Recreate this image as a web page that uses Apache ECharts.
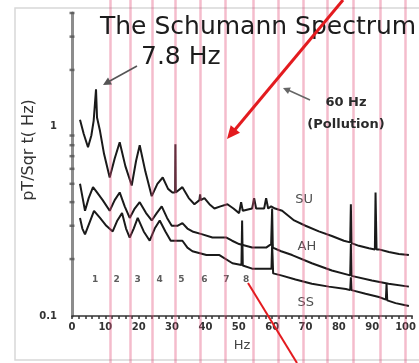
<!DOCTYPE html>
<html>
<head>
<meta charset="utf-8">
<script src="https://cdn.jsdelivr.net/npm/echarts@6/dist/echarts.min.js"></script>
<style>html,body{margin:0;padding:0;background:#fff;}#c{width:419px;height:363px;}</style>
</head>
<body>
<div id="c"></div>
<script>
// ---- data (Hz, pT/sqrt(Hz)) ----
const su = [[2.4,1.09],[3.5,0.92],[4.8,0.78],[5.8,0.9],[6.5,1.08],[7.2,1.58],[7.5,1.12],[8.4,0.95],[9.6,0.72],[11.3,0.54],[12.8,0.68],[14.3,0.83],[16.0,0.62],[17.9,0.49],[19.2,0.66],[20.3,0.80],[22.0,0.58],[23.9,0.43],[25.6,0.50],[27.2,0.54],[28.8,0.47],[30.1,0.45],[30.9,0.45],[31.0,0.81],[31.1,0.45],[33.1,0.48],[35.0,0.42],[36.7,0.39],[38.2,0.41],[38.4,0.44],[38.6,0.41],[39.7,0.42],[41.2,0.39],[42.7,0.37],[44.5,0.38],[46.6,0.39],[48.4,0.37],[50.1,0.35],[50.7,0.40],[51.2,0.36],[54.0,0.37],[54.6,0.42],[55.2,0.37],[57.6,0.37],[58.2,0.42],[58.8,0.37],[59.7,0.38],[60.9,0.37],[63.0,0.36],[66.6,0.32],[70.0,0.30],[74.0,0.28],[77.9,0.265],[81.5,0.25],[83.4,0.245],[83.6,0.39],[83.8,0.243],[86.0,0.235],[89.0,0.228],[90.8,0.225],[91.0,0.45],[91.3,0.225],[92.0,0.225],[95.0,0.218],[98.0,0.213],[101.0,0.21]];
const ah = [[2.4,0.50],[3.2,0.42],[3.9,0.36],[5.0,0.42],[6.3,0.48],[7.5,0.45],[9.2,0.41],[11.3,0.36],[12.8,0.41],[14.3,0.45],[15.8,0.38],[17.3,0.33],[18.8,0.37],[20.3,0.40],[22.2,0.35],[23.9,0.32],[25.4,0.35],[26.9,0.38],[28.5,0.33],[29.9,0.30],[31.6,0.30],[33.1,0.31],[34.6,0.29],[36.1,0.28],[39.1,0.27],[42.1,0.26],[44.0,0.26],[46.3,0.26],[48.0,0.25],[50.1,0.24],[54.0,0.23],[58.2,0.23],[59.7,0.24],[59.9,0.24],[60.0,0.37],[60.2,0.23],[62.7,0.22],[66.0,0.21],[71.9,0.19],[77.9,0.174],[83.4,0.164],[83.6,0.24],[83.8,0.163],[89.9,0.154],[94.9,0.148],[101.0,0.143]];
const ss = [[2.4,0.33],[3.1,0.29],[3.9,0.27],[5.2,0.31],[6.6,0.36],[8.4,0.33],[10.3,0.30],[12.2,0.28],[13.6,0.32],[15.0,0.35],[16.2,0.29],[17.3,0.26],[18.5,0.29],[19.7,0.33],[21.5,0.28],[23.3,0.25],[24.8,0.29],[26.3,0.32],[28.0,0.28],[29.6,0.25],[31.5,0.25],[33.1,0.25],[34.6,0.23],[36.1,0.22],[40.3,0.21],[44.2,0.21],[48.1,0.19],[50.8,0.186],[51.0,0.32],[51.2,0.185],[54.0,0.178],[59.1,0.178],[59.8,0.178],[60.0,0.24],[60.3,0.168],[62.7,0.164],[67.0,0.156],[71.9,0.148],[77.0,0.143],[82.1,0.139],[83.4,0.137],[83.6,0.16],[83.8,0.137],[88.0,0.131],[92.0,0.126],[94.1,0.122],[94.3,0.148],[94.5,0.121],[97.0,0.117],[101.0,0.113]];
const seriesNames = ['SU','AH','SS'];
const seriesLabelPos = [[69.6,0.41],[70.4,0.234],[70.1,0.117]];
const modeHz = [6.9,13.4,19.7,26.3,32.8,39.7,46.3,52.2];
const modeLabels = ['1','2','3','4','5','6','7','8'];
const modeLevel = 0.156;
const overlayHz = [11.3,17.3,23.9,30.7,38.2,45.7,54,61.5,69,76.1,83.9,91.9,99.4];
const xTickLabels = ['0','10','20','30','40','50','60','70','80','90','100'];
const yTickLabels = {'0.1':'0.1','1':'1'};
const yMinorTicks = [0.2,0.3,0.4,0.5,0.6,0.7,0.8,0.9,2,3,4];
const yTitle = 'pT/Sqr t( Hz)';

const FONT = 'DejaVu Sans';
const chart = echarts.init(document.getElementById('c'), null, {renderer:'canvas'});

const lineStyle = {color:'#1a1a1a', width:2};
function curve(name, data){
  return {type:'line', name:name, data:data, xAxisIndex:0, yAxisIndex:0, symbol:'none',
    lineStyle:lineStyle, z:3, animation:false};
}

chart.setOption({
  backgroundColor:'#ffffff',
  animation:false,
  grid:[
    {left:72, right:5, top:13, bottom:47},
    {left:72, right:5, top:0, bottom:0}
  ],
  xAxis:[
    {type:'value', gridIndex:0, min:0, max:102, interval:10,
     axisLine:{show:true, onZero:false, lineStyle:{color:'#333', width:1.5}},
     axisTick:{show:true, length:3, inside:false, lineStyle:{color:'#333', width:1.5}},
     minorTick:{show:true, splitNumber:5, length:3, lineStyle:{color:'#333', width:1.5}},
     splitLine:{show:false},
     axisLabel:{margin:6, fontFamily:FONT, fontWeight:'bold', fontSize:10, color:'#333',
       formatter:function(v){ const i = Math.round(v/10); return (Math.abs(v-i*10)<1e-6 && i>=0 && i<xTickLabels.length) ? xTickLabels[i] : ''; }},
     name:'Hz', nameLocation:'middle', nameGap:23,
     nameTextStyle:{fontFamily:FONT, fontSize:13, color:'#444'}},
    {type:'value', gridIndex:1, min:0, max:102, show:false}
  ],
  yAxis:[
    {type:'log', gridIndex:0, logBase:10, min:0.1, max:4,
     axisLine:{show:true, lineStyle:{color:'#8c8c8c', width:3}},
     axisTick:{show:false},
     splitLine:{show:false},
     axisLabel:{margin:15, fontFamily:FONT, fontWeight:'bold', fontSize:10, color:'#333',
       formatter:function(v){ if (Math.abs(v-0.1)<1e-6) return yTickLabels['0.1']; if (Math.abs(v-1)<1e-6) return yTickLabels['1']; return ''; }}},
    {type:'value', gridIndex:1, min:0, max:1, show:false}
  ],
  series:[
    curve('SU', su), curve('AH', ah), curve('SS', ss),
    {type:'scatter', xAxisIndex:0, yAxisIndex:0, symbol:'rect', symbolSize:[5,2.5],
     itemStyle:{color:'#555'}, z:4, silent:true,
     data: yMinorTicks.map(v => [0, v])},
    {type:'scatter', xAxisIndex:0, yAxisIndex:0, symbolSize:0, z:4, silent:true,
     label:{show:true, position:'inside', formatter:p => seriesNames[p.dataIndex],
       fontFamily:FONT, fontSize:13, color:'#222'},
     data: seriesLabelPos},
    {type:'scatter', xAxisIndex:0, yAxisIndex:0, symbolSize:0, z:4, silent:true,
     label:{show:true, position:'inside', formatter:p => modeLabels[p.dataIndex],
       fontFamily:FONT, fontWeight:'bold', fontSize:9, color:'#333'},
     data: modeHz.map(h => [h, modeLevel])},
    {type:'line', xAxisIndex:1, yAxisIndex:1, data:[], z:10, silent:true,
     markLine:{symbol:['none','none'], silent:true, label:{show:false},
       lineStyle:{color:'rgba(225,80,120,0.38)', width:2.5, type:'solid'},
       data: overlayHz.map(h => ({xAxis:h}))}}
  ],
  graphic:[
    {type:'rect', z:0, shape:{x:15, y:8, width:410, height:352}, style:{fill:'none', stroke:'#d8d8d8', lineWidth:1.5}},
    {type:'text', z:20, x:29, y:150, rotation:Math.PI/2,
     style:{text:yTitle, font:'normal 16px "DejaVu Sans"', fill:'#333', textAlign:'center', textVerticalAlign:'middle'}},
    {type:'text', z:20, left:100, top:15, style:{text:'The Schumann Spectrum', font:'normal 25px "DejaVu Sans"', fill:'#1c1c1c'}},
    {type:'text', z:20, left:141, top:45, style:{text:'7.8 Hz', font:'normal 25px "DejaVu Sans"', fill:'#1c1c1c'}},
    {type:'text', z:20, style:{x:346, y:103, text:'60 Hz', font:'bold 13px "DejaVu Sans"', fill:'#2a2a2a', textAlign:'center', textVerticalAlign:'middle'}},
    {type:'text', z:20, style:{x:346, y:125, text:'(Pollution)', font:'bold 13px "DejaVu Sans"', fill:'#2a2a2a', textAlign:'center', textVerticalAlign:'middle'}},
    {type:'line', z:20, shape:{x1:137, y1:66, x2:108, y2:82}, style:{stroke:'#555', lineWidth:1.5}},
    {type:'polygon', z:20, shape:{points:[[103,85],[112,84.6],[108,77.6]]}, style:{fill:'#555'}},
    {type:'line', z:20, shape:{x1:310, y1:100, x2:288, y2:90}, style:{stroke:'#666', lineWidth:1.5}},
    {type:'polygon', z:20, shape:{points:[[283,88],[290.8,87.6],[288,94]]}, style:{fill:'#666'}},
    {type:'line', z:21, shape:{x1:343, y1:0, x2:233, y2:132}, style:{stroke:'#e31b1f', lineWidth:3}},
    {type:'polygon', z:21, shape:{points:[[227,139],[240,132.8],[230.7,125.2]]}, style:{fill:'#e31b1f'}},
    {type:'line', z:21, shape:{x1:248, y1:283, x2:297, y2:363}, style:{stroke:'#e31b1f', lineWidth:2}}
  ]
});
</script>
</body>
</html>
